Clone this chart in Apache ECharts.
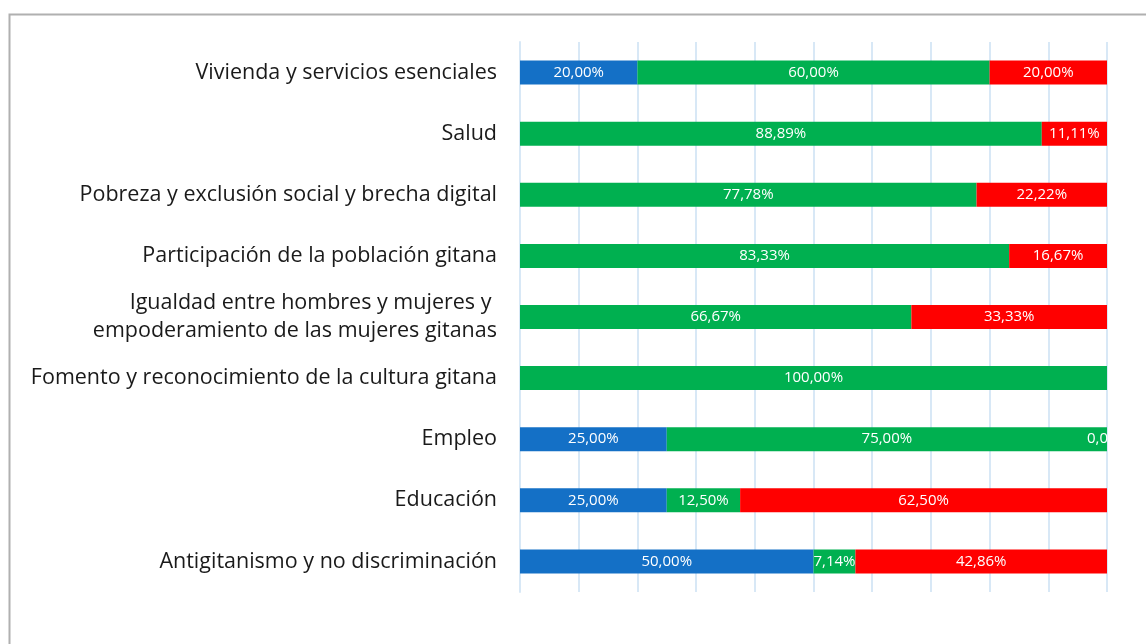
<!DOCTYPE html>
<html>
<head>
<meta charset="utf-8">
<script src="https://cdn.jsdelivr.net/npm/echarts@6/dist/echarts.min.js"></script>
<style>
  html, body { margin: 0; padding: 0; background: #fff; }
  #chart { width: 1146px; height: 644px; }
</style>
</head>
<body>
<div id="chart"></div>
<script>
// categories, bottom to top (as drawn on the category axis)
var categories = [
    'Antigitanismo y no discriminación',
    'Educación',
    'Empleo',
    'Fomento y reconocimiento de la cultura gitana',
    'Igualdad entre hombres y mujeres y \nempoderamiento de las mujeres gitanas',
    'Participación de la población gitana',
    'Pobreza y exclusión social y brecha digital',
    'Salud',
    'Vivienda y servicios esenciales'
];

// percentages per series (null = empty cell, no label)
var blueValues = [50.00, 25.00, 25.00, null, null, null, null, null, 20.00];
var greenValues = [7.14, 12.50, 75.00, 100.00, 66.67, 83.33, 77.78, 88.89, 60.00];
var redValues = [42.86, 62.50, 0.00, null, 33.33, 16.67, 22.22, 11.11, 20.00];

var seriesNames = ['Azul', 'Verde', 'Rojo'];
var seriesColors = ['#1470c6', '#00b050', '#ff0000'];

function fmt(p) {
    return p.value.toFixed(2).replace('.', ',') + '%';
}

function buildData(values) {
    return values.map(function (v) {
        if (v === 0) {
            // zero-width segment: label sits on the grid edge and is cut off there
            return {
                value: v,
                label: {
                    position: 'left', distance: -1, width: 25,
                    overflow: 'truncate', ellipsis: ''
                }
            };
        }
        return v === null ? '-' : v;
    });
}

var myChart = echarts.init(document.getElementById('chart'));

var option = {
    animation: false,
    textStyle: { fontFamily: 'Open Sans' },
    graphic: [{
        type: 'rect',
        shape: { x: 9.5, y: 14.5, width: 1200, height: 700 },
        style: { fill: 'none', stroke: '#b0b0b0', lineWidth: 2 },
        silent: true
    }],
    grid: {
        left: 520,
        right: 39,
        top: 42,
        bottom: 52,
        containLabel: false
    },
    xAxis: {
        type: 'value',
        min: 0,
        max: 100,
        interval: 10,
        axisLabel: { show: false },
        axisTick: { show: false },
        axisLine: { show: false },
        splitLine: { lineStyle: { color: '#d8e8f6', width: 2 } }
    },
    yAxis: {
        type: 'category',
        data: categories,
        axisTick: { show: false },
        axisLine: { show: true, lineStyle: { color: '#d8e8f6', width: 2 } },
        axisLabel: {
            color: '#1a1a1a',
            fontSize: 21.5,
            margin: 23,
            lineHeight: 28,
            align: 'right'
        }
    },
    series: [blueValues, greenValues, redValues].map(function (vals, i) {
        return {
            name: seriesNames[i],
            type: 'bar',
            stack: 'total',
            barWidth: 24,
            itemStyle: { color: seriesColors[i] },
            label: {
                show: true,
                position: 'inside',
                color: '#fff',
                fontSize: 15,
                formatter: fmt
            },
            data: buildData(vals)
        };
    })
};

myChart.setOption(option);
</script>
</body>
</html>
